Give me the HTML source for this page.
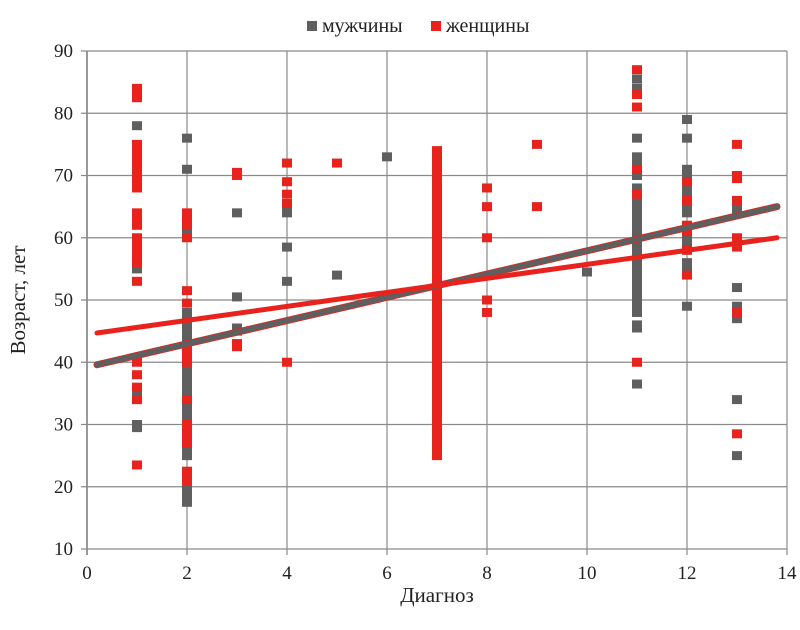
<!DOCTYPE html>
<html><head><meta charset="utf-8"><style>
body{margin:0;background:#fff;font-family:"Liberation Serif",serif;}
svg text{font-family:"Liberation Serif",serif;fill:#222;}
</style></head><body>
<svg id="chart" width="800" height="625" xmlns="http://www.w3.org/2000/svg">
<g id="grid"></g>
<g id="marks"></g>
<g id="ticks"></g>
<text x="437" y="602" text-anchor="middle" font-size="21">Диагноз</text>
<text transform="translate(25,300) rotate(-90)" text-anchor="middle" font-size="21">Возраст, лет</text>
<g>
<rect x="307" y="21" width="10" height="10" fill="#5f5f5f"/>
<text x="322" y="32" font-size="20">мужчины</text>
<rect x="431" y="21" width="10" height="10" fill="#e8221c"/>
<text x="446" y="32" font-size="20">женщины</text>
</g>
</svg>
<script>
const xTicks=[0,2,4,6,8,10,12,14];
const yTicks=[10,20,30,40,50,60,70,80,90];
const menX=[1,1,1,1,1,1,1,1,1, 2,2,2,2,2,2,2,2,2,2,2,2,2,2,2,2,2,2,2,2,2,2,2,2,2,2,2,2,2,2,2,2, 3,3,3,3, 4,4,4,4, 5,6,10, 11,11,11,11,11,11,11,11,11,11,11,11,11,11,11,11,11,11,11,11,11,11,11,11,11,11,11,11,11, 12,12,12,12,12,12,12,12,12,12,12,12,12,12,12,12, 13,13,13,13,13,13,13,13];
const menY=[78,70,69,56,55,35,34,30,29.5, 76,71,61,62,48,47,46,45,44,43,40,39,38,37,36,35,34,33,32,31,30,29,28,27,26,25,22,21,20,19,18,17.5, 64,50.5,45.5,45, 64,65,58.5,53, 54,73,54.5, 85.5,84,76,73,72,70,68,66,65,64,63,62,61,60,59,58,57,56,55,54,53,52,51,50,49,48,46,45.5,36.5, 79,76,71,70,68,67,65,64,62,61,60,59,58,56,55,49, 65,64.5,52,49,48,47,34,25];
const womenX=[1,1,1,1,1,1,1,1,1,1,1,1,1,1,1,1,1,1,1,1,1,1,1,1,1, 2,2,2,2,2,2,2,2,2,2,2,2,2,2,2,2, 3,3,3,3, 4,4,4,4,4, 5, 8,8,8,8,8, 9,9, 11,11,11,11,11,11, 12,12,12,12,12,12, 13,13,13,13,13,13,13,13,13];
const womenY=[84,83,82.5,75,74,73,72,71,70,69,68,64,63,62,60,59,58,57,56,53,40,38,36,34,23.5, 64,63,62,60,51.5,49.5,42,41,40,34,30,29,28,27,22.5,21, 70.5,70,43,42.5, 72,69,67,65.5,40, 72, 68,65,60,50,48, 75,65, 87,83,81,71,67,40, 69,66,62,61,54,58, 75,70,69.5,66,60,59.5,58.5,48,28.5];
// women's dense column at diagnosis 7
const col7Min=25, col7Max=74;
for(let v=col7Min; v<=col7Max; v+=1){womenX.push(7);womenY.push(v);}
const menTrend=[[0.2,39.6],[13.8,65]];
const womenTrend=[[0.2,44.7],[13.8,60]];

const X0=87,X1=787,Y0=549,Y1=51;
const sx=v=>X0+(v-0)/(14-0)*(X1-X0);
const sy=v=>Y0-(v-10)/(90-10)*(Y0-Y1);
const NS="http://www.w3.org/2000/svg";
function mk(tag,attrs,parent){const e=document.createElementNS(NS,tag);for(const k in attrs)e.setAttribute(k,attrs[k]);parent.appendChild(e);return e;}
const grid=document.getElementById('grid'),marks=document.getElementById('marks'),ticks=document.getElementById('ticks');
xTicks.forEach(t=>{
  const l=mk('line',{x1:sx(t),x2:sx(t),y1:Y1,y2:Y0+6,stroke:t===0?'#555':'#8a8a8a','stroke-width':1.2},grid);
  
  
  const tx=mk('text',{x:sx(t),y:579,'text-anchor':'middle','font-size':19},ticks);
  tx.textContent=t;
  
  
});
yTicks.forEach(t=>{
  const l=mk('line',{x1:X0-6,x2:X1,y1:sy(t),y2:sy(t),stroke:'#8a8a8a','stroke-width':1.2},grid);
  
  
  const tx=mk('text',{x:73,y:sy(t)+6,'text-anchor':'end','font-size':19},ticks);
  tx.textContent=t;
  
  
});
function pts(xs,ys,color,name){
  xs.forEach((x,i)=>{
    const r=mk('rect',{x:sx(x)-5,y:sy(ys[i])-4.5,width:10,height:9,fill:color},marks);
    
    
  });
}
pts(menX,menY,'#5f5f5f','point-men');
pts(womenX,womenY,'#e8221c','point-women');
function trend(p,color,w,name){
  const l=mk('line',{x1:sx(p[0][0]),y1:sy(p[0][1]),x2:sx(p[1][0]),y2:sy(p[1][1]),stroke:color,'stroke-width':w,'stroke-linecap':'round'},marks);
  
  
}
trend(menTrend,'#e8221c',7,'trendline-men-edge');
trend(menTrend,'#5f5f5f',5.5,'trendline-men');
trend(womenTrend,'#e8221c',5,'trendline-women');
</script>
</body></html>
